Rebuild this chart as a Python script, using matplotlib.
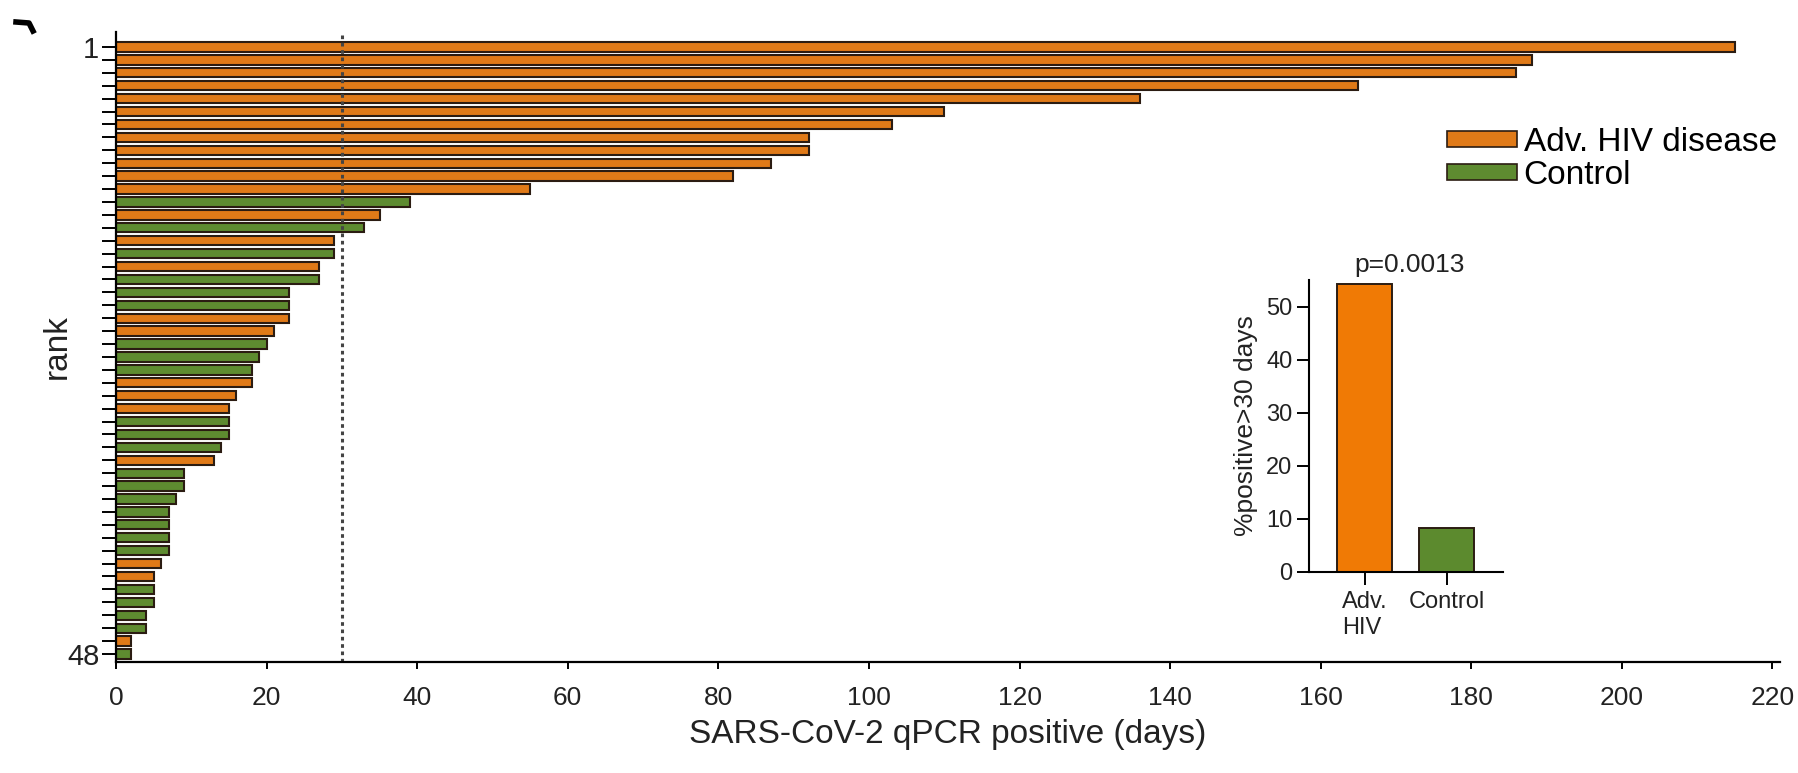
import numpy as np
import matplotlib
matplotlib.use("Agg")
import matplotlib.pyplot as plt
from matplotlib.patches import Patch
from matplotlib.lines import Line2D

plt.rcParams['font.family'] = ['Liberation Sans', 'DejaVu Sans']

# days positive per patient, ranked 1..48
days = [215, 188, 186, 165, 136, 110, 103, 92, 92, 87, 82, 55,
        39, 35, 33, 29, 29, 27, 27, 23, 23, 23, 21, 20,
        19, 18, 18, 16, 15, 15, 15, 14, 13, 9, 9, 8,
        7, 7, 7, 7, 6, 5, 5, 5, 4, 4, 2, 2]
group = ['H'] * 12 + ['C', 'H', 'C', 'H', 'C', 'H', 'C', 'C', 'C', 'H', 'H', 'C',
                      'C', 'C', 'H', 'H', 'H', 'C', 'C', 'C', 'H', 'C', 'C', 'C',
                      'C', 'C', 'C', 'C', 'H', 'H', 'C', 'C', 'C', 'C', 'H', 'C']
ranks = np.arange(1, len(days) + 1)

inset_groups = ["Adv.\nHIV", "Control"]
inset_pct = [54.2, 8.3]
p_text = "p=0.0013"

orange = '#E07A18'
green = '#5E8B30'
edge = '#2b1c12'
colmap = {'H': orange, 'C': green}

fig = plt.figure(figsize=(17.98, 7.73), dpi=100)
ax = fig.add_axes([0.0645, 0.1436, 0.9255, 0.815])

ax.barh(ranks, days, height=0.72, color=[colmap[g] for g in group],
        edgecolor=edge, linewidth=1.5)
ax.axvline(30, color='#444444', ls=(0, (1.2, 1.2)), lw=2.2)

ax.set_xlim(0, 221)
ax.set_ylim(48.62, -0.16)
ax.set_xticks(np.arange(0, 221, 20))
ax.set_xticklabels([str(v) for v in range(0, 221, 20)], fontsize=19, color='#222222')
ax.set_yticks(ranks)
ax.set_yticklabels(['1'] + [''] * 46 + ['48'], fontsize=21, color='#222222')
ax.tick_params(axis='y', length=10, width=1.4, pad=2)
ax.tick_params(axis='x', length=5, width=1.4, pad=12)
for s in ['top', 'right']:
    ax.spines[s].set_visible(False)
for s in ['left', 'bottom']:
    ax.spines[s].set_linewidth(1.6)
ax.set_xlabel("SARS-CoV-2 qPCR positive (days)", fontsize=24, color='#222222', labelpad=7)
ax.set_ylabel("rank", fontsize=24, color='#222222', labelpad=-4)

handles = [Patch(facecolor=orange, edgecolor=edge, lw=1.2, label="Adv. HIV disease"),
           Patch(facecolor=green, edgecolor=edge, lw=1.2, label="Control")]
fig.legend(handles=handles, loc='upper left', bbox_to_anchor=(1447 / 1798, 1 - 127 / 773),
           frameon=False, fontsize=24, handlelength=2.1, handleheight=0.36,
           handletextpad=0.2, labelspacing=0.05, borderpad=0, borderaxespad=0)

# inset bar chart
ins = fig.add_axes([1309 / 1798, 1 - 572 / 773, 194 / 1798, 292 / 773])
ins.bar([0, 1], inset_pct, width=0.67, color=['#F07A05', '#5C8A2E'],
        edgecolor=edge, linewidth=1.4)
ins.set_xlim(-0.68, 1.69)
ins.set_ylim(0, 55)
ins.set_yticks(np.arange(0, 51, 10))
ins.set_yticklabels([str(v) for v in range(0, 51, 10)], fontsize=17, color='#222222')
ins.set_xticks([0, 1])
ins.set_xticklabels(inset_groups, fontsize=17, color='#222222', multialignment='left')
ins.tick_params(axis='y', length=9, width=1.4, pad=3)
ins.tick_params(axis='x', length=9, width=1.4, pad=5)
for s in ['top', 'right']:
    ins.spines[s].set_visible(False)
for s in ['left', 'bottom']:
    ins.spines[s].set_linewidth(1.5)
ins.set_ylabel("%positive>30 days", fontsize=19, color='#222222', labelpad=6)
ins.text(0.55, 57.8, p_text, ha='center', va='center', fontsize=19, color='#222222',
         clip_on=False)

# remnant of panel letter at top left
fig.add_artist(Line2D([16 / 1798, 29 / 1798, 33 / 1798],
                      [1 - 22 / 773, 1 - 23 / 773, 1 - 31 / 773],
                      color='black', lw=4, transform=fig.transFigure))

plt.savefig("out.png", dpi=100)
plt.close()
